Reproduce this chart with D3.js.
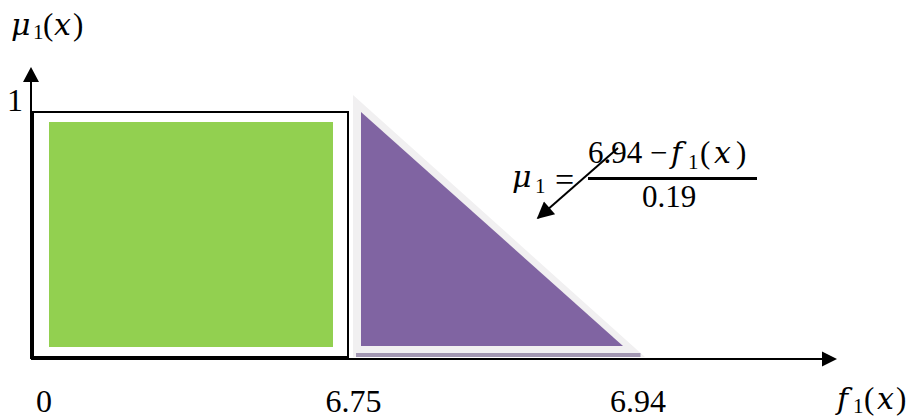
<!DOCTYPE html>
<html><head><meta charset="utf-8">
<script src="https://cdn.jsdelivr.net/npm/d3@7"></script>
<style>
body{margin:0;background:#fff;}
svg{display:block;font-family:"Liberation Serif","DejaVu Serif",serif;}
</style></head>
<body><svg id="c" width="908" height="419"></svg>
<script>
// ---- data ----
const xTicks = [0, 6.75, 6.94];
const xTickLabels = ["0", "6.75", "6.94"];
const yTicks = [1];
const rectSet = {x0: 0, x1: 6.75, mu: 1};           // crisp segment
const triPoints = [[6.75, 1], [6.75, 0], [6.94, 0]]; // decreasing membership
const formulaNum = "6.94";
const formulaDen = "0.19";

const svg = d3.select("#c");
const x = d3.scaleLinear().domain(xTicks).range([43.5, 353, 637.5]);
const y = d3.scaleLinear().domain([0, 1]).range([357, 112]);
const axisY = 359, axisX = 31;

// black-outlined rectangle with green fill inside
const rx0 = x(rectSet.x0) - 10.5, rx1 = x(rectSet.x1) - 5;
svg.append("rect").attr("x", rx0 + 16).attr("y", y(rectSet.mu) + 10)
  .attr("width", rx1 - rx0 - 31).attr("height", y(0) - y(rectSet.mu) - 20)
  .attr("fill", "#92D050");
svg.append("rect").attr("x", rx0).attr("y", y(rectSet.mu))
  .attr("width", rx1 - rx0).attr("height", y(0) - y(rectSet.mu))
  .attr("fill", "none").attr("stroke", "#000").attr("stroke-width", 2);

// triangle: light grey outline + purple fill
const tp = triPoints.map(d => [x(d[0]), y(d[1])]);
const outer = [[tp[0][0], tp[0][1] - 17], [tp[1][0], tp[1][1]], [tp[2][0] + 7.5, tp[2][1]]];
const inner = [[tp[0][0] + 8, tp[0][1]], [tp[1][0] + 8, tp[1][1] - 11], [tp[2][0] - 14.5, tp[2][1] - 11]];
svg.append("polygon").attr("points", outer.map(p => p.join(",")).join(" ")).attr("fill", "#F1F0F1");
svg.append("polygon").attr("points", inner.map(p => p.join(",")).join(" ")).attr("fill", "#8064A2");
svg.append("rect").attr("x", tp[1][0] + 3).attr("y", tp[1][1] - 4)
  .attr("width", tp[2][0] - tp[1][0]).attr("height", 4).attr("fill", "#A297B2");

// axes lines with arrows
svg.append("line").attr("x1", axisX).attr("y1", axisY).attr("x2", 822).attr("y2", axisY)
  .attr("stroke", "#000").attr("stroke-width", 2);
svg.append("polygon").attr("points", `822,351.5 837,${axisY} 822,366.5`).attr("fill", "#000");
svg.append("line").attr("x1", axisX).attr("y1", axisY).attr("x2", axisX).attr("y2", 81)
  .attr("stroke", "#000").attr("stroke-width", 2);
svg.append("polygon").attr("points", `23,82 ${axisX},67 39,82`).attr("fill", "#000");

// x tick labels via axis
const gx = svg.append("g").attr("transform", `translate(0,${axisY})`)
  .call(d3.axisBottom(x).tickValues(xTicks).tickFormat((d, i) => xTickLabels[i]).tickSize(0).tickPadding(0));
gx.select(".domain").remove();
gx.selectAll("text").attr("dy", null).attr("y", 53).attr("font-size", 32)
  .attr("font-family", "Liberation Serif, serif").attr("fill", "#000");

// y tick label
const gy = svg.append("g").attr("transform", `translate(${axisX},0)`)
  .call(d3.axisLeft(y).tickValues(yTicks).tickFormat(d3.format("d")).tickSize(0).tickPadding(8));
gy.select(".domain").remove();
gy.selectAll("text").attr("dy", null).attr("y", -2).attr("font-size", 32)
  .attr("font-family", "Liberation Serif, serif").attr("fill", "#000");

// math text pieces placed explicitly
const IT = "DejaVu Serif, serif", RM = "Liberation Serif, serif";
function piece(t, px, py, size, italic) {
  svg.append("text").attr("x", px).attr("y", py).attr("font-size", size)
    .attr("font-family", italic ? IT : RM).attr("font-style", italic ? "italic" : "normal")
    .attr("fill", "#000").text(t);
}

// y-axis title  μ1(x)
piece("μ", 11, 35, 30, true);
piece("1", 33, 39, 21);
piece("(", 43, 35, 31);
piece("x", 54, 35, 30, true);
piece(")", 73, 35, 31);

// x-axis title  f1(x)
piece("f", 837, 409, 30, true);
piece("1", 853, 413, 21);
piece("(", 864, 409, 31);
piece("x", 877, 409, 30, true);
piece(")", 896, 409, 31);

// formula  μ1 = (6.94 − f1(x)) / 0.19
piece("μ", 512, 187, 30, true);
piece("1", 535, 193, 21);
piece("=", 555, 191, 34);
piece(formulaNum, 588, 163, 31);
piece("−", 650, 163, 31);
piece("f", 671, 163, 30, true);
piece("1", 688, 169, 21);
piece("(", 700, 163, 31);
piece("x", 714, 163, 30, true);
piece(")", 736, 163, 31);
svg.append("line").attr("x1", 588).attr("x2", 757).attr("y1", 178.5).attr("y2", 178.5)
  .attr("stroke", "#000").attr("stroke-width", 2.8);
piece(formulaDen, 642, 207, 31);

// pointer arrow
svg.append("defs").append("marker").attr("id", "ah").attr("viewBox", "0 0 10 10")
  .attr("refX", 9).attr("refY", 5).attr("markerWidth", 19).attr("markerHeight", 17)
  .attr("markerUnits", "userSpaceOnUse").attr("orient", "auto")
  .append("path").attr("d", "M0,0 L10,5 L0,10 Z").attr("fill", "#000");
svg.append("line").attr("x1", 618).attr("y1", 148).attr("x2", 538).attr("y2", 218)
  .attr("stroke", "#000").attr("stroke-width", 2).attr("marker-end", "url(#ah)");
</script></body></html>
